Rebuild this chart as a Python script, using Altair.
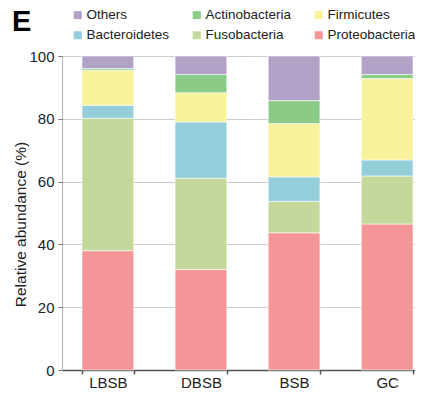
import altair as alt
import pandas as pd

groups = ["LBSB", "DBSB", "BSB", "GC"]
phyla = ["Proteobacteria", "Fusobacteria", "Bacteroidetes", "Firmicutes", "Actinobacteria", "Others"]
legend_order = ["Others", "Actinobacteria", "Firmicutes", "Bacteroidetes", "Fusobacteria", "Proteobacteria"]
colors = {
    "Others": "#b3a2c8",
    "Actinobacteria": "#8bcb88",
    "Firmicutes": "#f8f29a",
    "Bacteroidetes": "#94cedb",
    "Fusobacteria": "#c4d89c",
    "Proteobacteria": "#f49597",
}

proteobacteria = [38.0, 32.0, 43.7, 46.5]
fusobacteria = [42.2, 29.1, 10.0, 15.3]
bacteroidetes = [4.1, 17.9, 7.8, 5.1]
firmicutes = [11.2, 9.3, 17.0, 25.9]
actinobacteria = [0.5, 5.8, 7.3, 1.3]
others = [4.0, 5.9, 14.2, 5.9]

series = {
    "Proteobacteria": proteobacteria,
    "Fusobacteria": fusobacteria,
    "Bacteroidetes": bacteroidetes,
    "Firmicutes": firmicutes,
    "Actinobacteria": actinobacteria,
    "Others": others,
}

rows = []
for p_i, p in enumerate(phyla):
    for g, v in zip(groups, series[p]):
        rows.append({"group": g, "phylum": p, "value": v, "order": p_i})
df = pd.DataFrame(rows)

FONT = "Liberation Sans"

chart = alt.Chart(df).mark_bar(stroke="white", strokeWidth=0.6).encode(
    x=alt.X(
        "group:N",
        sort=groups,
        title=None,
        scale=alt.Scale(paddingInner=0.444, paddingOuter=0.118, align=0.91),
        axis=alt.Axis(
            labelAngle=0, labelFontSize=15, labelColor="#222", labelFont=FONT,
            domainColor="#555", domainWidth=1.5, tickColor="#555", tickWidth=1.5,
            tickSize=4, tickBand="extent", labelPadding=1,
        ),
    ),
    y=alt.Y(
        "value:Q",
        stack="zero",
        title="Relative abundance (%)",
        scale=alt.Scale(domain=[0, 100], nice=False),
        axis=alt.Axis(
            values=[0, 20, 40, 60, 80, 100], labelFontSize=15, labelColor="#222",
            labelFont=FONT, titleFont=FONT, titleFontSize=15.5, titleFontWeight="normal",
            titleColor="#222", titlePadding=0, titleY=168,
            domainColor="#777", domainDash=[1, 1], domainWidth=1.2,
            tickColor="#777", tickSize=4, labelPadding=4,
            grid=True, gridColor="#999", gridDash=[1, 1], gridWidth=1,
        ),
    ),
    color=alt.Color(
        "phylum:N",
        scale=alt.Scale(domain=legend_order, range=[colors[k] for k in legend_order]),
        legend=alt.Legend(
            title=None, orient="none", legendX=9, legendY=-48, columns=3,
            direction="horizontal", symbolType="square", symbolSize=64,
            symbolStrokeWidth=0, labelFontSize=13.5, labelFont=FONT, labelColor="#222",
            columnPadding=20, rowPadding=5.5, gridAlign="each", labelOffset=2,
        ),
    ),
    order=alt.Order("order:Q", sort="ascending"),
).properties(
    width=353,
    height=314,
    title=alt.TitleParams("E", anchor="start", frame="group", fontSize=29, fontWeight="bold",
                          font=FONT, color="#000", dx=-50, offset=0, dy=29),
    autosize=alt.AutoSizeParams(type="none"),
    padding={"left": 54, "top": 48, "right": 0, "bottom": 19},
).configure_view(stroke=None)

chart.save("out.html", embed_options={"renderer": "svg", "actions": False})
